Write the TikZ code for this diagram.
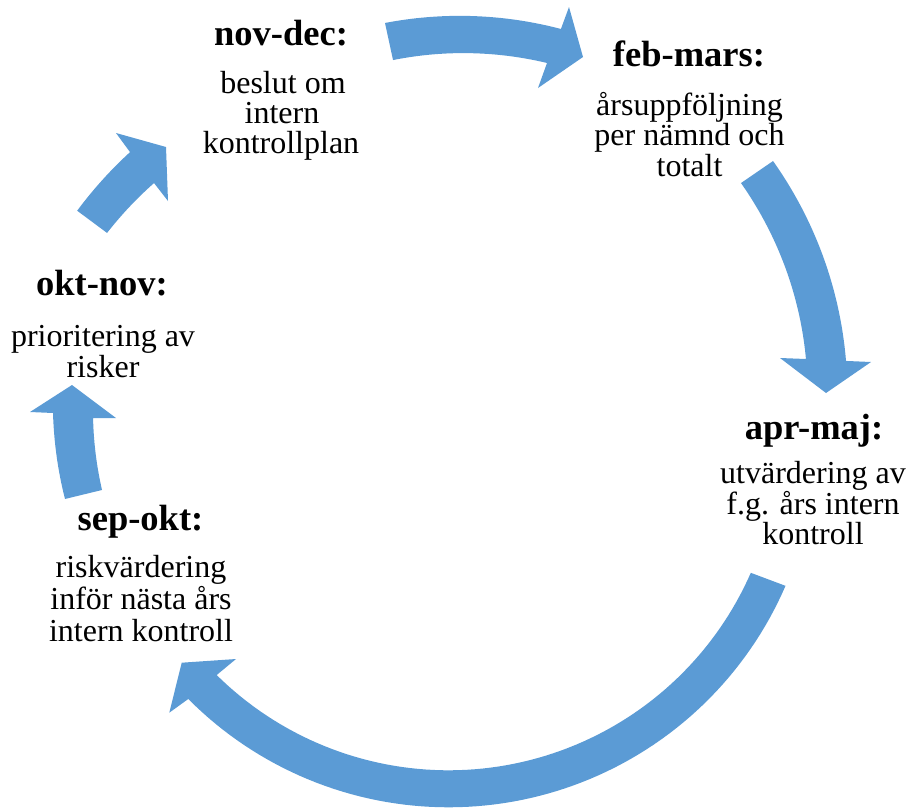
\documentclass[tikz,border=0pt]{standalone}
\usepackage{fontspec}
\setmainfont{Liberation Serif}
\definecolor{arrowblue}{HTML}{5B9BD5}
\begin{document}
\begin{tikzpicture}[x=1pt,y=-1pt,
  cyclearrow/.style={fill=arrowblue},
  heading/.style={anchor=base,inner sep=0pt,font=\fontsize{36.5}{40}\selectfont\bfseries},
  bodyline/.style={anchor=base,inner sep=0pt,font=\fontsize{32}{34}\selectfont},
  declare function={px(\a,\r)=451+\r*cos(\a); py(\a,\r)=412-\r*sin(\a);
                    qx(\a,\r)=448.6+\r*cos(\a); qy(\a,\r)=440.3-\r*sin(\a);}]
\useasboundingbox (0,0) rectangle (912,809);

% top arrow: nov-dec -> feb-mars
\fill[cyclearrow]
  plot[domain=0:1,samples=40,variable=\t] ({px(99.63-25.65*\t,394.6+3.9*\t)},{py(99.63-25.65*\t,394.6+3.9*\t)})
  -- (569,7) -- (583,57) -- (538,88) -- (547,63)
  -- plot[domain=0:1,samples=40,variable=\t] ({px(74.62+24.74*\t,362-5.3*\t)},{py(74.62+24.74*\t,362-5.3*\t)})
  -- cycle;

% right arrow: feb-mars -> apr-maj
\fill[cyclearrow]
  plot[domain=0:1,samples=40,variable=\t] ({px(37.93-30.57*\t,408.3-10*\t)},{py(37.93-30.57*\t,408.3-10*\t)})
  -- (871,362) -- (826,393) -- (780,358) -- (806,359)
  -- plot[domain=0:1,samples=40,variable=\t] ({px(8.49+29.81*\t,358.9+10.6*\t)},{py(8.49+29.81*\t,358.9+10.6*\t)})
  -- cycle;

% bottom arrow: apr-maj -> sep-okt
\fill[cyclearrow]
  plot[domain=0:1,samples=80,variable=\t] ({qx(-23.36-111.9*\t,367)},{qy(-23.36-111.9*\t,367)})
  -- (169.3,712.7) -- (181.7,662.7) -- (236,659) -- (216.7,675)
  -- plot[domain=0:1,samples=80,variable=\t] ({qx(-134.66+111.06*\t,330)},{qy(-134.66+111.06*\t,330)})
  -- cycle;

% lower-left arrow: sep-okt -> okt-nov
\fill[cyclearrow]
  plot[domain=0:1,samples=30,variable=\t] ({px(192.7-12.56*\t,395.7+2.3*\t)},{py(192.7-12.56*\t,395.7+2.3*\t)})
  -- (30,412) -- (72,385) -- (116,418) -- (93,418)
  -- plot[domain=0:1,samples=30,variable=\t] ({px(180.96+11.64*\t,358-0.4*\t)},{py(180.96+11.64*\t,358-0.4*\t)})
  -- cycle;

% upper-left arrow: okt-nov -> nov-dec
\fill[cyclearrow]
  plot[domain=0:1,samples=30,variable=\t] ({px(151.7-10.7*\t,424.6-11.6*\t)},{py(151.7-10.7*\t,424.6-11.6*\t)})
  -- (116,133) -- (166,147) -- (168,201) -- (154,183)
  -- plot[domain=0:1,samples=30,variable=\t] ({px(142.37+10.13*\t,375+12.8*\t)},{py(142.37+10.13*\t,375+12.8*\t)})
  -- cycle;

% nov-dec
\node[heading] (h1) at (281,45) {nov-dec:};
\node[bodyline] (b1a) at (283,93) {beslut om};
\node[bodyline] (b1b) at (282,123.5) {intern};
\node[bodyline] (b1c) at (281,153.5) {kontrollplan};

% feb-mars
\node[heading] (h2) at (689,66) {feb-mars:};
\node[bodyline] (b2a) at (689.5,115) {årsuppföljning};
\node[bodyline] (b2b) at (689.5,145.5) {per nämnd och};
\node[bodyline] (b2c) at (689.5,176) {totalt};

% apr-maj
\node[heading] (h3) at (814,439) {apr-maj:};
\node[bodyline] (b3a) at (813,483.5) {utvärdering av};
\node[bodyline] (b3b) at (813,514) {f.g. års intern};
\node[bodyline] (b3c) at (813,544.5) {kontroll};

% okt-nov
\node[heading] (h4) at (102,295) {okt-nov:};
\node[bodyline] (b4a) at (103,346.5) {prioritering av};
\node[bodyline] (b4b) at (103,377) {risker};

% sep-okt
\node[heading] (h5) at (140.5,530) {sep-okt:};
\node[bodyline] (b5a) at (141,577) {riskvärdering};
\node[bodyline] (b5b) at (141,609) {inför nästa års};
\node[bodyline] (b5c) at (141,641) {intern kontroll};
\end{tikzpicture}
\end{document}
